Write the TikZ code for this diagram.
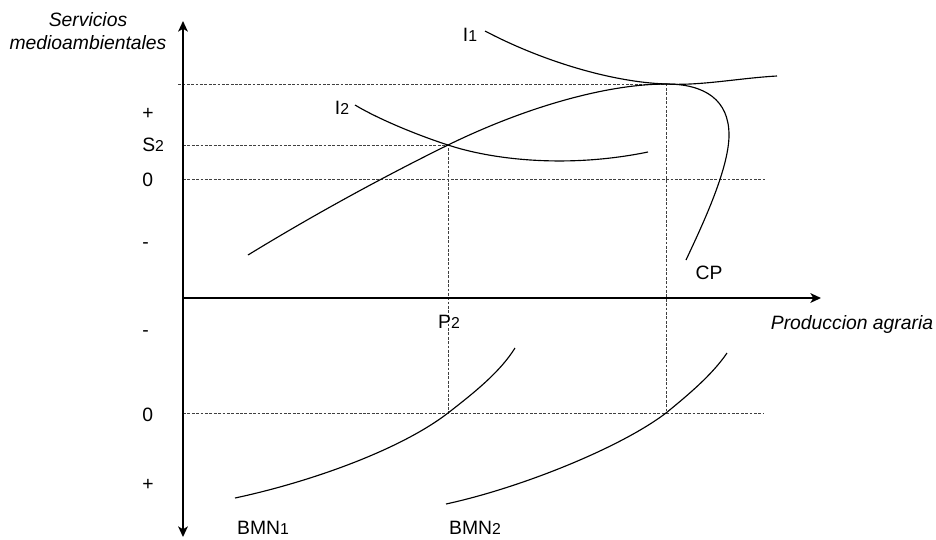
\documentclass[tikz,border=0pt]{standalone}
\usepackage{fontspec}
\setmainfont{Liberation Sans}
\usepackage{tikz}
\usetikzlibrary{
    arrows.meta,
    positioning,
    calc
}
\tikzset{
  >=             {Stealth[length=6pt, width=5.5pt, inset=1.6pt]},
  axisln/.style = {line width=1.3pt},
  guide/.style  = {black!75, line width=0.45pt, dash pattern=on 1.6pt off 0.9pt},
  locus/.style  = {line width=0.65pt},
  lbl/.style    = {inner sep=0pt, font=\fontsize{11}{13}\selectfont},
  ylbl/.style   = {lbl, anchor=west},
  axlbl/.style  = {inner sep=0pt, font=\fontsize{11}{13}\selectfont\itshape, align=center}
}
\newcommand{\idx}[1]{{\fontsize{9}{10}\selectfont #1}}

\begin{document}
\begin{tikzpicture}[x=0.02cm, y=-0.02cm]
        \useasboundingbox (0,0) rectangle (936,539);
        \coordinate (O) at (183,298);
        \coordinate (ytop) at (183,21);
        \coordinate (ybot) at (183,537);
        \coordinate (xend) at (821,298);
        \coordinate (S0) at (178,84);
        \coordinate (E1) at (448,145);
        \coordinate (E2) at (666,84);
        \coordinate (F1) at (448,413);
        \coordinate (F2) at (666,413);
        \coordinate (Z1) at (765,179);
        \coordinate (Z2) at (763,413);
        \draw[guide] (S0) -- (E2) -- (F2);
        \draw[guide] (E1 -| O) -- (E1) -- (F1);
        \draw[guide] (Z1 -| O) -- (Z1);
        \draw[guide] (Z2 -| O) -- (Z2);
        \draw[axisln, <->] (ybot) -- (ytop);
        \draw[axisln, ->] (O) -- (xend);
        \draw[locus] (248,255) .. controls (315,214) and (385,176) .. (E1)
                     .. controls (530,105) and (610,84) .. (E2)
                     .. controls (705,84) and (729,100) .. (729,135)
                     .. controls (729,170) and (700,230) .. (686,260);
        \draw[locus] (485,31) .. controls (540,60) and (610,82) .. (E2)
                     .. controls (700,86) and (740,78) .. (777,76);
        \draw[locus] (355,105) .. controls (380,120) and (420,136) .. (E1)
                     .. controls (490,159) and (565,169) .. (648,152);
        \draw[locus] (235,498) .. controls (310,482) and (400,450) .. (F1)
                     .. controls (475,392) and (500,372) .. (515,348);
        \draw[locus] (446,504) .. controls (520,488) and (620,448) .. (F2)
                     .. controls (688,395) and (712,375) .. (727,353);
        \node[axlbl] (ylab) at (88,31) {Servicios\\medioambientales};
        \node[axlbl] (xlab) at (852,324) {Produccion agraria};
        \node[ylbl] (yp1) at (142,114) {+};
        \node[ylbl] (ys2) at (142,145) {S\idx{2}};
        \node[ylbl] (yz1) at (142,180) {0};
        \node[ylbl] (ym1) at (142,246) {-};
        \node[ylbl] (ym2) at (142,334) {-};
        \node[ylbl] (yz2) at (142,415) {0};
        \node[ylbl] (yp2) at (142,485) {+};
        \node[lbl] (i1) at (470,35) {I\idx{1}};
        \node[lbl] (i2) at (342,108) {I\idx{2}};
        \node[lbl] (cp) at (709,273) {CP};
        \node[lbl] (p2) at (449,322) {P\idx{2}};
        \node[lbl] (bmn1) at (263,528) {BMN\idx{1}};
        \node[lbl] (bmn2) at (475,528) {BMN\idx{2}};
      \end{tikzpicture}
\end{document}
